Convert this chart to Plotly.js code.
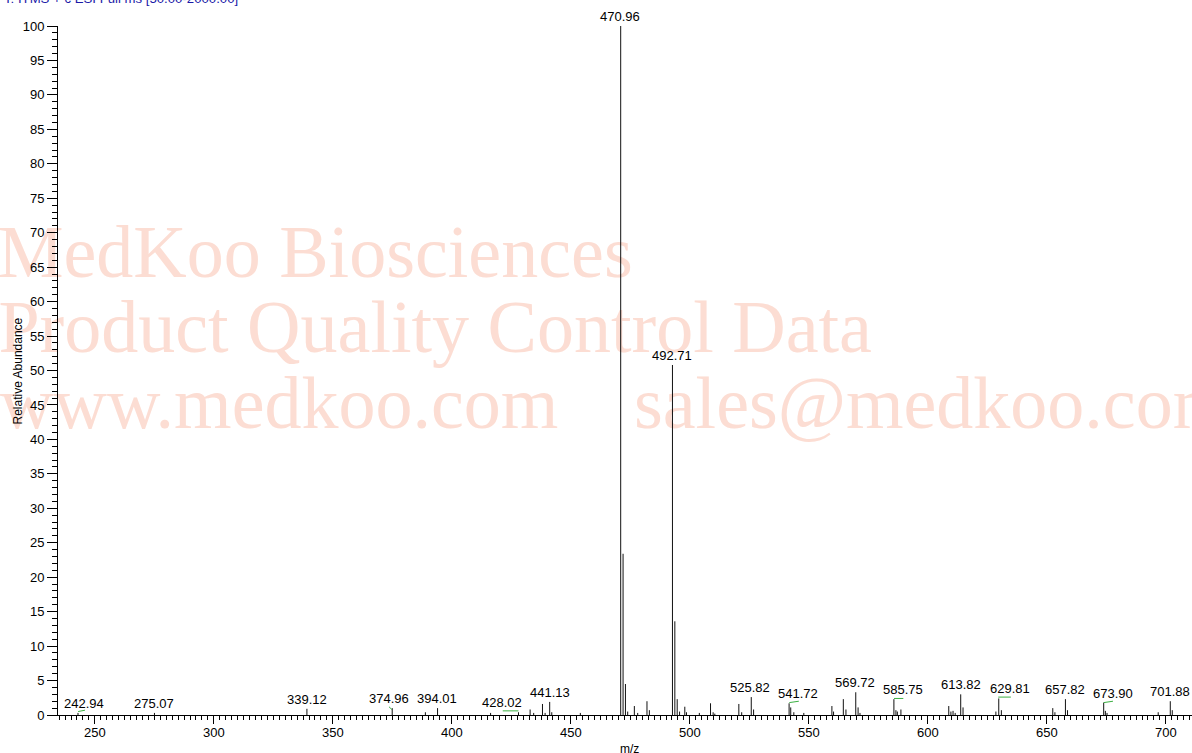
<!DOCTYPE html>
<html>
<head>
<meta charset="utf-8">
<script src="https://cdn.plot.ly/plotly-3.0.1.min.js"></script>
<style>html,body{margin:0;padding:0;background:#fff;}#chart{width:1192px;height:753px;}</style>
</head>
<body>
<div id="chart"></div>
<script>
// Spectrum sticks: m/z and relative abundance
const peakMz = [242.94, 275.07, 339.12, 374.96, 388.9, 394.01, 416.3, 428.02, 432.9, 434.4, 438.1, 439.2, 441.13, 442.0, 454.0,
  470.96, 471.96, 472.96, 473.9, 476.7, 478.1, 482.0, 483.0,
  492.71, 493.71, 494.7, 495.7, 497.9, 498.6, 504.0, 508.7, 509.8, 510.5,
  520.6, 521.8, 525.82, 526.8, 541.72, 542.4, 543.7, 547.9,
  559.7, 560.4, 564.5, 565.6, 569.72, 570.7, 571.5,
  585.75, 586.6, 587.2, 588.7, 608.8, 609.7, 610.6, 611.5, 613.82, 614.8,
  628.6, 629.81, 630.9, 652.5, 653.4, 657.82, 658.7,
  673.90, 674.6, 675.3, 696.8, 701.88, 702.7];
const peakInt = [0.3, 0.3, 0.9, 1.0, 0.4, 1.0, 0.3, 0.4, 0.8, 0.3, 1.6, 0.3, 1.9, 0.4, 0.3,
  100, 23.4, 4.5, 0.5, 1.3, 0.3, 2.0, 0.7,
  50.8, 13.6, 2.3, 0.5, 1.2, 0.4, 0.3, 1.7, 0.4, 0.2,
  1.6, 0.4, 2.6, 0.8, 1.7, 1.1, 0.4, 0.3,
  1.3, 0.5, 2.3, 0.8, 3.3, 1.1, 0.3,
  2.3, 0.7, 0.5, 0.8, 1.3, 0.5, 0.6, 0.3, 3.0, 1.1,
  0.5, 2.4, 0.7, 1.0, 0.4, 2.3, 0.7,
  1.8, 0.6, 0.3, 0.4, 2.0, 0.7];

// Labelled peaks
const labelMz = [242.94, 275.07, 339.12, 374.96, 394.01, 428.02, 441.13, 470.96, 492.71, 525.82, 541.72, 569.72, 585.75, 613.82, 629.81, 657.82, 673.90, 701.88];
const labelInt = [0.3, 0.3, 0.9, 1.0, 1.0, 0.4, 1.9, 100, 50.8, 2.6, 1.7, 3.3, 2.3, 3.0, 2.4, 2.3, 1.8, 2.0];

// Green noise marks (start/end m/z and level)
const noiseX0 = [243.0, 373.6, 421.4, 541.8, 585.8, 629.6, 673.9];
const noiseX1 = [245.9, 374.8, 428.0, 545.8, 589.7, 634.9, 677.8];
const noiseY0 = [0.5, 1.2, 0.6, 1.8, 2.4, 2.6, 1.8];
const noiseY1 = [0.7, 0.8, 0.6, 2.0, 2.4, 2.6, 2.0];

// Watermark lines
const wmText = ["MedKoo Biosciences", "Product Quality Control Data", "www.medkoo.com", "sales@medkoo.com"];

// ---- presentation (positions / offsets, not data) ----
const labelShiftPx = {"242.94": 6, "374.96": -3, "394.01": -1, "428.02": -16, "470.96": -1, "525.82": -1,
  "541.72": 9, "569.72": -1, "585.75": 9, "629.81": 11, "673.90": 9};
const wmPos = [[342.6, 66.3], [393.0, 55.3], [327.5, 44.3], [601.8, 44.3]];

const stickX = [], stickY = [];
peakMz.forEach((m, i) => { stickX.push(m, m, null); stickY.push(0, peakInt[i], null); });
const nX = [], nY = [];
noiseX0.forEach((x0, i) => { nX.push(x0, noiseX1[i], null); nY.push(noiseY0[i], noiseY1[i], null); });

const FONT = 'Liberation Sans, Arial, sans-serif';
const traces = [
  {type: 'scatter', mode: 'text', x: wmPos.map(p => p[0]), y: wmPos.map(p => p[1]), text: wmText, textposition: 'middle center',
   cliponaxis: false, hoverinfo: 'skip',
   textfont: {family: 'Liberation Serif, Times New Roman, serif', size: 74, color: '#fcddd3'}},
  {type: 'scatter', mode: 'lines', x: stickX, y: stickY, line: {color: '#111', width: 1}, hoverinfo: 'skip'},
  {type: 'scatter', mode: 'lines', x: nX, y: nY, line: {color: '#3cb043', width: 1}, hoverinfo: 'skip'}
];

const annotations = labelMz.map((m, i) => {
  const t = m.toFixed(2);
  return {x: m, y: labelInt[i], xref: 'x', yref: 'y', text: t, showarrow: false,
    yanchor: 'bottom', xanchor: 'center', yshift: 0, xshift: labelShiftPx[t] || 0,
    font: {family: FONT, size: 13, color: '#000'}};
});
annotations.push({xref: 'paper', yref: 'paper', x: -0.0494, y: 1.0392, xanchor: 'left', yanchor: 'middle',
  text: 'T: ITMS + c ESI Full ms [50.00-2000.00]', showarrow: false, font: {family: FONT, size: 13.2, color: '#1a1aa8'}});
annotations.push({xref: 'paper', yref: 'paper', x: -0.0353, y: 0.5, xanchor: 'center', yanchor: 'middle', textangle: -90,
  text: 'Relative Abundance', showarrow: false, font: {family: FONT, size: 12, color: '#000'}});
annotations.push({xref: 'paper', yref: 'paper', x: 0.504, y: -0.0493, xanchor: 'center', yanchor: 'middle',
  text: 'm/z', showarrow: false, font: {family: FONT, size: 12, color: '#000'}});

const layout = {
  width: 1192, height: 753,
  margin: {l: 58, r: 0, t: 26, b: 38, pad: 0},
  paper_bgcolor: '#fff', plot_bgcolor: '#fff',
  showlegend: false, hovermode: false,
  xaxis: {range: [234.54, 711.0], tickmode: 'linear', tick0: 250, dtick: 50, ticks: 'outside', ticklen: 8,
    ticklabelstandoff: -3,
    tickcolor: '#000', tickwidth: 1, showline: true, linecolor: '#000', linewidth: 1, showgrid: false, zeroline: false,
    tickfont: {family: FONT, size: 13, color: '#000'},
    minor: {tick0: 250, dtick: 2.5, ticks: 'outside', ticklen: 4, tickcolor: '#000', tickwidth: 1, showgrid: false}},
  yaxis: {range: [0, 100], tickmode: 'linear', tick0: 0, dtick: 5, ticks: 'outside', ticklen: 10,
    tickcolor: '#000', tickwidth: 1, showline: true, linecolor: '#000', linewidth: 1, showgrid: false, zeroline: false,
    tickfont: {family: FONT, size: 13, color: '#000'},
    minor: {tick0: 0, dtick: 1, ticks: 'outside', ticklen: 5, tickcolor: '#000', tickwidth: 1, showgrid: false}},
  annotations: annotations
};

Plotly.newPlot('chart', traces, layout, {displayModeBar: false, staticPlot: true});
</script>
</body>
</html>
